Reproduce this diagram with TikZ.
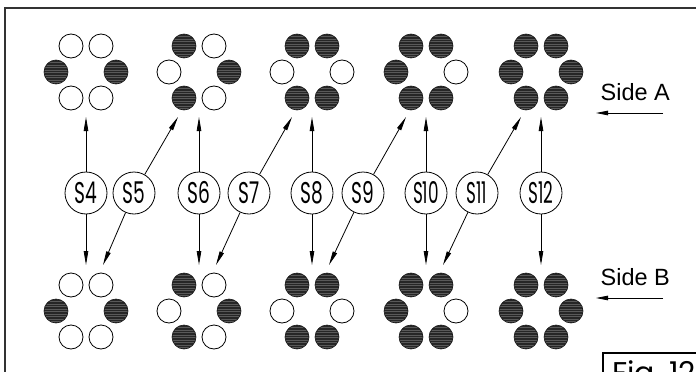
\documentclass[tikz,border=0pt]{standalone}
\usepackage{fontspec}
\usetikzlibrary{arrows.meta}
\newfontfamily\labfont{Poppins}
\newfontfamily\sidefont{Liberation Sans}
\tikzset{
  holec/.style={circle, draw=black, line width=0.8pt, fill=white, minimum size=24pt, inner sep=0pt},
  pegc/.style={circle, draw=black!90, line width=0.6pt, fill=black!85, minimum size=24pt, inner sep=0pt,
    path picture={\foreach \k in {-10.5,-8,...,10.5}{\draw[black!65, line width=0.3pt]
      ([yshift=\k pt]path picture bounding box.west) -- ([yshift=\k pt]path picture bounding box.east);}}},
  snode/.style={circle, draw=black, line width=0.8pt, fill=white, minimum size=42pt, inner sep=0pt,
    font=\labfont\fontsize{30}{30}\selectfont},
  conn/.style={line width=0.8pt, -{Triangle[length=14pt,width=4.5pt]}},
  sidearrow/.style={line width=0.8pt, -{Triangle[length=12pt,width=4.5pt]}},
  sidetext/.style={font=\sidefont\fontsize{23.5}{23.5}\selectfont, inner sep=0pt, anchor=base west},
  figtext/.style={font=\labfont\fontsize{30}{30}\selectfont, inner sep=0pt, anchor=base west},
}
\newcommand\hexgroup[9]{%
  \node[#4] (#1tl) at (#2-15,#3-26) {};
  \node[#5] (#1tr) at (#2+15,#3-26) {};
  \node[#6] (#1l)  at (#2-30,#3) {};
  \node[#7] (#1r)  at (#2+30,#3) {};
  \node[#8] (#1bl) at (#2-15,#3+26) {};
  \node[#9] (#1br) at (#2+15,#3+26) {};
}
\begin{document}
\begin{tikzpicture}[x=1pt,y=-1pt]
\useasboundingbox (0,0) rectangle (696,372);
\fill[white] (0,0) rectangle (696,372);
\draw[line width=2pt, draw=black!80] (5,8) rectangle (760,420);

% Side A groups
\hexgroup{ga1}{86}{72}{holec}{holec}{pegc}{pegc}{holec}{holec}
\hexgroup{ga2}{199}{72}{pegc}{holec}{holec}{pegc}{pegc}{holec}
\hexgroup{ga3}{312}{72}{pegc}{pegc}{holec}{holec}{pegc}{pegc}
\hexgroup{ga4}{426}{72}{pegc}{pegc}{pegc}{holec}{pegc}{pegc}
\hexgroup{ga5}{541}{72}{pegc}{pegc}{pegc}{pegc}{pegc}{pegc}
% Side B groups
\hexgroup{gb1}{86}{311}{holec}{holec}{pegc}{pegc}{holec}{holec}
\hexgroup{gb2}{199}{311}{pegc}{holec}{holec}{pegc}{pegc}{holec}
\hexgroup{gb3}{312}{311}{pegc}{pegc}{holec}{holec}{pegc}{pegc}
\hexgroup{gb4}{426}{311}{pegc}{pegc}{pegc}{holec}{pegc}{pegc}
\hexgroup{gb5}{541}{311}{pegc}{pegc}{pegc}{pegc}{pegc}{pegc}

% step nodes
\node[snode] (s4)  at (86,193)  {\scalebox{0.62}[1]{S4}};
\node[snode] (s5)  at (134,193) {\scalebox{0.62}[1]{S5}};
\node[snode] (s6)  at (199,193) {\scalebox{0.62}[1]{S6}};
\node[snode] (s7)  at (249,193) {\scalebox{0.62}[1]{S7}};
\node[snode] (s8)  at (312,193) {\scalebox{0.62}[1]{S8}};
\node[snode] (s9)  at (363,193) {\scalebox{0.62}[1]{S9}};
\node[snode] (s10) at (426,193) {\scalebox{0.56}[1]{S10}};
\node[snode] (s11) at (477,193) {\scalebox{0.56}[1]{S11}};
\node[snode] (s12) at (541,193) {\scalebox{0.56}[1]{S12}};

% arrow targets
\coordinate (ta1) at (86,117);
\coordinate (ta2) at (199,117);
\coordinate (ta3) at (312,117);
\coordinate (ta4) at (426,117);
\coordinate (ta5) at (541,117);
\coordinate (tsa2) at (178,117);
\coordinate (tsa3) at (292,117);
\coordinate (tsa4) at (406,117);
\coordinate (tsa5) at (521,117);
\coordinate (tb1) at (86,265);
\coordinate (tb2) at (199,265);
\coordinate (tb3) at (312,265);
\coordinate (tb4) at (426,265);
\coordinate (tb5) at (541,265);
\coordinate (tsb1) at (103,265);
\coordinate (tsb2) at (216,265);
\coordinate (tsb3) at (329,265);
\coordinate (tsb4) at (443,265);

\draw[conn] (s4) -- (ta1);  \draw[conn] (s4) -- (tb1);
\draw[conn] (s6) -- (ta2);  \draw[conn] (s6) -- (tb2);
\draw[conn] (s8) -- (ta3);  \draw[conn] (s8) -- (tb3);
\draw[conn] (s10) -- (ta4); \draw[conn] (s10) -- (tb4);
\draw[conn] (s12) -- (ta5); \draw[conn] (s12) -- (tb5);
\draw[conn] (s5) -- (tsa2); \draw[conn] (s5) -- (tsb1);
\draw[conn] (s7) -- (tsa3); \draw[conn] (s7) -- (tsb2);
\draw[conn] (s9) -- (tsa4); \draw[conn] (s9) -- (tsb3);
\draw[conn] (s11) -- (tsa5); \draw[conn] (s11) -- (tsb4);

% side labels
\node[sidetext] (sidea) at (600.5,100) {Side A};
\coordinate (saf) at (663,113);
\coordinate (sat) at (596,113);
\draw[sidearrow] (saf) -- (sat);
\node[sidetext] (sideb) at (600.5,285) {Side B};
\coordinate (sbf) at (663,298);
\coordinate (sbt) at (596,298);
\draw[sidearrow] (sbf) -- (sbt);

% figure label
\draw[line width=1.5pt] (603,353) rectangle (760,420);
\node[figtext] (fig) at (612,383) {Fig.\hspace{8pt}12};
\end{tikzpicture}
\end{document}
